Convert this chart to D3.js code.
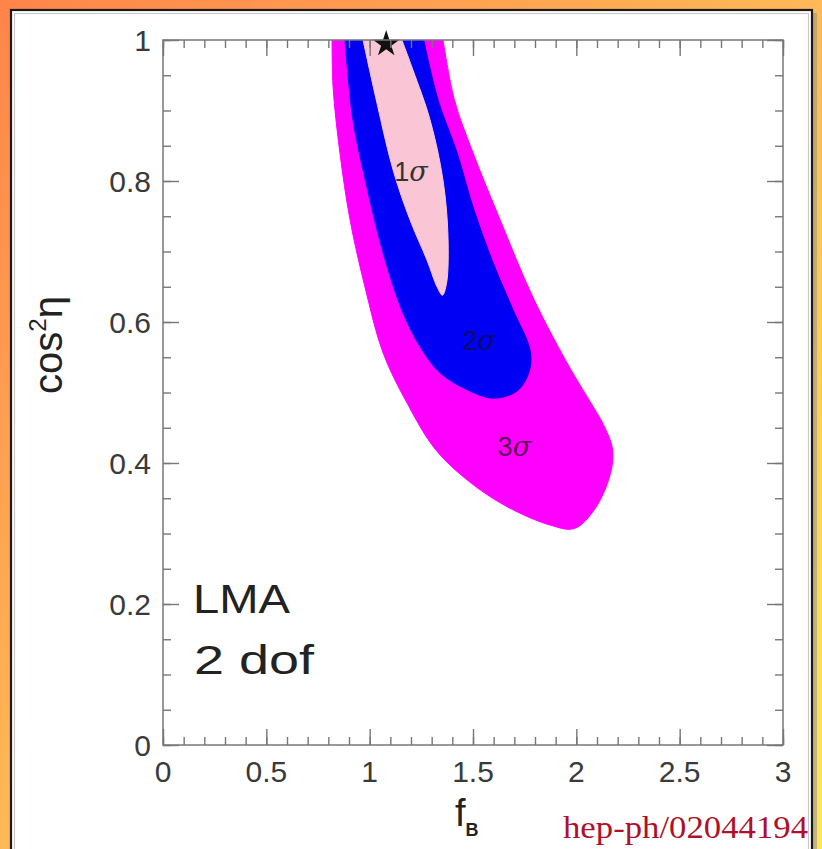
<!DOCTYPE html>
<html><head><meta charset="utf-8">
<script src="https://cdn.jsdelivr.net/npm/d3@7"></script>
<style>html,body{margin:0;padding:0;background:#fff;}svg{display:block;}</style>
</head><body>
<script>
// ---- data ----
const xTickLabels = ["0", "0.5", "1", "1.5", "2", "2.5", "3"];
const xTickValues = [0, 0.5, 1, 1.5, 2, 2.5, 3];
const yTickLabels = ["0", "0.2", "0.4", "0.6", "0.8", "1"];
const yTickValues = [0, 0.2, 0.4, 0.6, 0.8, 1];
const levels = ["3σ", "2σ", "1σ"];
const contour3 = [[0.818,1.0],[0.823,0.933],[0.856,0.840],[0.905,0.745],[0.977,0.650],[1.065,0.556],[1.181,0.485],[1.316,0.420],[1.480,0.374],[1.665,0.338],[1.873,0.312],[1.990,0.307],[2.090,0.335],[2.165,0.385],[2.175,0.420],[2.130,0.455],[2.081,0.480],[1.955,0.542],[1.790,0.635],[1.631,0.745],[1.500,0.840],[1.410,0.915],[1.355,1.0]];
const contour2 = [[0.881,1.0],[0.919,0.887],[0.987,0.791],[1.065,0.698],[1.161,0.613],[1.244,0.565],[1.340,0.528],[1.471,0.504],[1.597,0.492],[1.713,0.502],[1.772,0.530],[1.776,0.560],[1.694,0.617],[1.597,0.684],[1.500,0.763],[1.423,0.840],[1.335,0.911],[1.280,0.975],[1.262,1.0]];
const contour1 = [[0.968,1.0],[1.035,0.911],[1.113,0.816],[1.195,0.745],[1.277,0.688],[1.326,0.650],[1.352,0.638],[1.372,0.655],[1.379,0.721],[1.355,0.801],[1.292,0.887],[1.210,0.957],[1.156,1.0]];
const labelPos = [[1.70,0.41],[1.53,0.56],[1.20,0.80]];
const bestFit = [1.08, 1.0];

// ---- drawing ----
const W = 822, H = 849;
const svg = d3.select("body").append("svg").attr("width", W).attr("height", H);
const defs = svg.append("defs");
const g1 = defs.append("linearGradient").attr("id","bg").attr("x1","0").attr("y1","0").attr("x2","1").attr("y2","1");
g1.append("stop").attr("offset","0").attr("stop-color","#ff844a");
g1.append("stop").attr("offset","0.45").attr("stop-color","#ffb455");
g1.append("stop").attr("offset","1").attr("stop-color","#ffe468");
svg.append("rect").attr("width",W).attr("height",H).attr("fill","url(#bg)");

// panel
svg.append("rect").attr("x",14).attr("y",13).attr("width",803).attr("height",H).attr("fill","#9a9a80").attr("opacity",0.6);
svg.append("rect").attr("x",11).attr("y",10).attr("width",801).attr("height",H).attr("fill","#fff").attr("stroke","#1a1a1a").attr("stroke-width",2.2);
svg.append("rect").attr("x",14.5).attr("y",13.5).attr("width",794).attr("height",H).attr("fill","none").attr("stroke","#c8c8c8").attr("stroke-width",1.2);

const L = 163, R = 783, T = 40, B = 745;
const x = d3.scaleLinear().domain([0,3]).range([L,R]);
const y = d3.scaleLinear().domain([0,1]).range([B,T]);

defs.append("clipPath").attr("id","clip").append("rect").attr("x",L).attr("y",T).attr("width",R-L).attr("height",B-T);
const plot = svg.append("g").attr("clip-path","url(#clip)");
const line = d3.line().x(d=>x(d[0])).y(d=>y(d[1])).curve(d3.curveCatmullRom.alpha(0.5));
const fills = ["#ff00ff","#0000f5","#fac6d6"];
[contour3, contour2, contour1].forEach((c,i)=>{
  plot.append("path").attr("d", line(c) + "Z").attr("fill", fills[i]).attr("stroke", fills[i]).attr("stroke-width",1);
});

// star
svg.append("path").attr("d", d3.symbol().type(d3.symbolStar).size(220)())
  .attr("transform",`translate(${x(bestFit[0])},${y(bestFit[1])+4})`).attr("fill","#111");

// sigma labels
const labCol = ["#5a005a","#0a0a70","#333"];
levels.forEach((s,i)=>{
  const t = svg.append("text").attr("x",x(labelPos[i][0])).attr("y",y(labelPos[i][1]))
    .attr("font-family","Liberation Sans, Arial, sans-serif").attr("font-size",27).attr("fill",labCol[i]).attr("text-anchor","middle");
  t.append("tspan").text(s[0]);
  t.append("tspan").attr("font-family","DejaVu Serif, serif").attr("font-style","italic").text(s.slice(1));
});

// axes frame
const axCol = "#777";
svg.append("rect").attr("x",L).attr("y",T).attr("width",R-L).attr("height",B-T).attr("fill","none").attr("stroke",axCol).attr("stroke-width",1.5);

const minorX = d3.range(0, 3.0001, 0.1);
const minorY = d3.range(0, 1.0001, 0.05);
function tickGroup(axisFn, vals, size, tx){
  const gg = svg.append("g").attr("transform", tx).call(axisFn.tickValues(vals).tickSize(size).tickFormat(""));
  gg.select(".domain").remove();
  gg.selectAll("line").attr("stroke",axCol).attr("stroke-width",1.4);
  return gg;
}
tickGroup(d3.axisBottom(x), minorX, -8, `translate(0,${B})`);
tickGroup(d3.axisBottom(x), xTickValues, -16, `translate(0,${B})`);
tickGroup(d3.axisTop(x), minorX, -8, `translate(0,${T})`);
tickGroup(d3.axisTop(x), xTickValues, -16, `translate(0,${T})`);
tickGroup(d3.axisLeft(y), minorY, -8, `translate(${L},0)`);
tickGroup(d3.axisLeft(y), yTickValues, -16, `translate(${L},0)`);
tickGroup(d3.axisRight(y), minorY, -8, `translate(${R},0)`);
tickGroup(d3.axisRight(y), yTickValues, -16, `translate(${R},0)`);

const font = "Liberation Sans, Arial, sans-serif";
xTickValues.forEach((v,i)=>{
  svg.append("text").attr("x",x(v)).attr("y",B+37).attr("text-anchor","middle")
    .attr("font-family",font).attr("font-size",30).attr("fill","#3a3a3a").text(xTickLabels[i]);
});
yTickValues.forEach((v,i)=>{
  svg.append("text").attr("x",L-12).attr("y",y(v)+11).attr("text-anchor","end")
    .attr("font-family",font).attr("font-size",30).attr("fill","#3a3a3a").text(yTickLabels[i]);
});

// y label
const yl = svg.append("text").attr("transform","translate(62,345) rotate(-90)").attr("text-anchor","middle")
  .attr("font-family",font).attr("font-size",40).attr("fill","#222");
yl.append("tspan").text("cos");
yl.append("tspan").attr("font-size",24).attr("dy",-16).text("2");
yl.append("tspan").attr("dy",16).text("η");

// x label
const xl = svg.append("text").attr("x",455).attr("y",826).attr("font-family",font).attr("font-size",38).attr("fill","#222");
xl.append("tspan").text("f");
xl.append("tspan").attr("font-size",18).attr("font-weight","bold").attr("dy",10).text("B");

// annotations
svg.append("text").attr("x",193).attr("y",613).attr("font-family",font).attr("font-size",41).attr("fill","#222")
  .attr("textLength",97).attr("lengthAdjust","spacingAndGlyphs").text("LMA");
svg.append("text").attr("x",194).attr("y",674).attr("font-family",font).attr("font-size",41).attr("fill","#222")
  .attr("textLength",120).attr("lengthAdjust","spacingAndGlyphs").text("2 dof");
svg.append("text").attr("x",563).attr("y",838).attr("font-family","Liberation Serif, Times New Roman, serif")
  .attr("font-size",32).attr("fill","#b0102a").attr("textLength",245).attr("lengthAdjust","spacingAndGlyphs").text("hep-ph/02044194");
</script>
</body></html>
